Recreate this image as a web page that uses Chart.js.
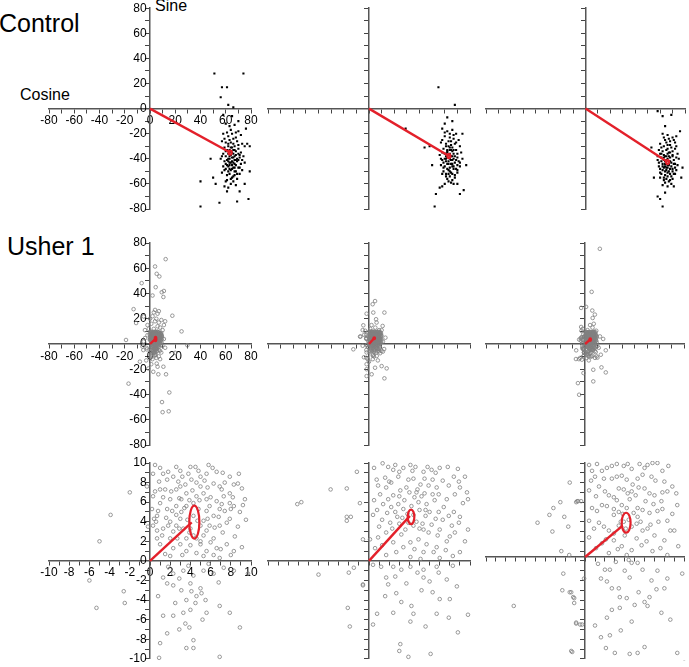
<!DOCTYPE html>
<html>
<head>
<meta charset="utf-8">
<script src="https://cdn.jsdelivr.net/npm/chart.js@4.4.0/dist/chart.umd.min.js"></script>
<style>
html, body { margin: 0; padding: 0; background: #fff; }
#wrap { position: relative; width: 689px; height: 667px; overflow: hidden; font-family: 'Liberation Sans', Arial, sans-serif; }
#wrap canvas { position: absolute; left: 0; top: 0; }
.lbl { position: absolute; white-space: nowrap; color: #000; }
</style>
</head>
<body>
<div id="wrap">
  <div class="lbl" style="left:-1px; top:11px; font-size:25px; line-height:25px;">Control</div>
  <div class="lbl" style="left:155px; top:-2px; font-size:16px; line-height:16px;">Sine</div>
  <div class="lbl" style="left:20px; top:87px; font-size:16px; line-height:16px;">Cosine</div>
  <div class="lbl" style="left:7px; top:234px; font-size:25px; line-height:25px;">Usher 1</div>
</div>
<script>
// axis ranges
const wideRange = [-80, 80];
const narrowRange = [-10, 10];
const narrowRangeLow = [-10.4, 9.6];   // last bottom panel sits a bit higher

// Control group: (cosine, sine) per sample, three conditions
const ctrl1 = [
  [51,28],[57,17],[61,17],[56,9],[62,3],[66,1],[74,28],[40,-58],[40,-78],[52,-60],[55,-75],[69,-74],[78,-72],
  [75,-60],[79,-50],[79,-30],[77,-28],[48,-40],[50,-55],[59,-62],[61,-66],[71,-66],[65,-6],[58,-5],[70,-10],[76,-16],
  [60,-12],[63,-14],[67,-13],[70,-18],[58,-20],[62,-22],[65,-20],[68,-23],[72,-21],[57,-26],[60,-27],[63,-25],
  [66,-28],[69,-26],[73,-28],[75,-30],[59,-31],[61,-33],[64,-31],[67,-33],[70,-32],[72,-35],[58,-36],[60,-38],
  [62,-36],[65,-35],[66,-39],[68,-37],[71,-39],[74,-38],[56,-40],[59,-42],[61,-41],[63,-43],[65,-42],[67,-44],
  [69,-42],[72,-44],[75,-43],[58,-46],[60,-48],[62,-46],[64,-49],[66,-47],[68,-50],[70,-47],[73,-49],[57,-51],
  [61,-53],[63,-52],[65,-55],[67,-53],[69,-56],[71,-52],[60,-58],[64,-60],[66,-58],[62,-63],[68,-61],[64,-34],
  [63,-38],[66,-33],[69,-40],[61,-45],[67,-41],[64,-27],[62,-30],[70,-36],[65,-45],[63,-48],
  [61,-19],[64,-17],[68,-19],[59,-24],[66,-24],[70,-29],[62,-28],[67,-30],[60,-34],[63,-35],[68,-34],[71,-37],
  [57,-38],[62,-40],[64,-37],[67,-38],[70,-41],[73,-41],[60,-44],[63,-45],[66,-43],[68,-45],[71,-47],[59,-49],
  [62,-50],[65,-48],[67,-50],[69,-52],[64,-56],[61,-57],[66,-54],[63,-40],[65,-39],[64,-43],[66,-36],[62,-42],
  [68,-41],[65,-31],[63,-33],[67,-47]
];
const ctrl2 = [
  [55,17],[68,3],[29,-16],[44,-31],[48,-30],[52,-78],[53,-68],[56,-63],[62,-7],[60,-12],[66,-10],[75,-65],
  [70,-60],[74,-20],[58,-62],[77,-45],[50,-45],[72,-68],
  [58,-16],[62,-18],[66,-17],[69,-20],[60,-22],[64,-23],[67,-24],[71,-25],[57,-27],[61,-28],[63,-26],[65,-29],
  [68,-28],[72,-30],[59,-32],[62,-33],[64,-31],[66,-34],[69,-33],[73,-35],[56,-37],[60,-36],[63,-37],[65,-38],
  [67,-36],[70,-39],[58,-41],[61,-40],[63,-42],[66,-41],[68,-43],[71,-42],[74,-40],[57,-45],[60,-46],[62,-44],
  [64,-47],[67,-46],[69,-48],[72,-46],[59,-50],[61,-52],[63,-49],[65,-51],[68,-53],[70,-51],[62,-56],[66,-57],
  [64,-54],[60,-60],[67,-60],[61,-38],[64,-40],[66,-44],[62,-35],[65,-33],[68,-38],[63,-30],[59,-43],[70,-45],
  [60,-19],[64,-20],[67,-21],[58,-25],[65,-26],[69,-27],[61,-30],[66,-31],[58,-35],[62,-34],[67,-33],[70,-36],
  [57,-40],[61,-42],[64,-39],[66,-38],[69,-41],[72,-43],[59,-47],[62,-48],[65,-44],[67,-48],[70,-49],[58,-52],
  [61,-54],[64,-50],[66,-52],[68,-55],[63,-58],[65,-59],[62,-39],[64,-36],[63,-44],[65,-41],[61,-36],[67,-40],
  [64,-33],[66,-46],[60,-40],[63,-52]
];
const ctrl3 = [
  [58,-2],[62,-6],[69,-5],[64,-14],[62,-78],[58,-70],[64,-67],[53,-31],[76,-18],[78,-47],[60,-72],[71,-62],
  [73,-22],[55,-55],[77,-55],
  [62,-20],[66,-21],[70,-23],[64,-25],[68,-26],[72,-27],[60,-28],[63,-30],[66,-29],[69,-31],[73,-30],[59,-33],
  [62,-34],[65,-33],[67,-35],[70,-34],[74,-36],[58,-38],[61,-39],[64,-38],[66,-40],[68,-39],[71,-41],[75,-40],
  [59,-43],[62,-44],[64,-42],[67,-45],[69,-43],[72,-44],[60,-48],[63,-47],[65,-49],[68,-48],[70,-50],[73,-49],
  [61,-52],[64,-53],[66,-51],[69,-54],[71,-52],[63,-57],[67,-58],[65,-56],[62,-61],[69,-60],[66,-36],[65,-44],
  [67,-42],[63,-41],[64,-46],[70,-38],[66,-47],[61,-36],[68,-52],[72,-47],[60,-55],[66,-62],
  [63,-23],[67,-24],[71,-25],[61,-31],[65,-27],[68,-29],[72,-32],[60,-36],[63,-37],[67,-38],[70,-37],[73,-39],
  [58,-41],[61,-42],[65,-41],[68,-42],[71,-44],[74,-45],[59,-46],[62,-49],[65,-47],[67,-50],[70,-48],[72,-52],
  [60,-51],[63,-55],[66,-54],[68,-57],[64,-59],[70,-56],[65,-38],[67,-44],[64,-44],[66,-45],[63,-39],[69,-46],
  [62,-46],[66,-32],[68,-35],[64,-50]
];

// Usher 1 group, same samples shown at two zooms
const ush1 = [
  [-2,7],[-3.9,4.7],[-0.3,7.6],[0.3,8.9],[1,9.5],[0.2,5.3],[0.4,4.3],[0.3,3.6],[-0.2,3.5],[0.6,4],
  [1.3,8.9],[1.7,8.3],[1.5,7.3],[2.3,8.6],[2.6,9.6],[3.2,8.6],[3.5,7.8],[4,9.6],[4.1,8.3],[4.5,9.6],
  [5,8.6],[5.8,9.8],[5.6,8.9],[6.6,9.1],[6.3,7.9],[6.9,7.6],[7.9,8.6],[8.3,7.8],[8.7,7.9],[7.9,6.9],
  [7.3,6.6],[5.3,6.9],[4.6,6.6],[3.6,6.9],[2.6,7.3],[2,6.3],[1,5.9],[1.7,5.3],[2.6,5.6],[3.1,5],
  [3.6,5.6],[5.6,5.1],[6.3,4.6],[6.9,5.3],[8.3,5.6],[7.9,4.3],[8.7,3.5],[6.9,3.6],[5.9,3.6],[5.3,4.1],
  [3,4.3],[2,4],[1.3,3.3],[2.3,3],[3.3,3.3],[3.6,2.3],[4.6,2.3],[5.3,2.6],[6.3,2.3],[7.6,1.7],
  [8.3,1],[6.9,0.3],[5.6,1],[4.6,0.8],[3.6,1],[2.3,1.3],[1.5,0.7],[1,1.7],[0.7,2.3],
  [1.3,-1.7],[2.3,-1.3],[3.3,-1],[4.3,-1.5],[5.3,-1],[6.3,-1.3],[8.3,-1],[9.7,-1.3],[1.7,-2.3],[2.3,-2.5],
  [4,-2.3],[5,-2.8],[4.6,-3.6],[5.1,-3.3],[0.8,-3.6],[4.5,-4.3],[3.6,-4],[3.3,-5.3],[4,-5],[2.3,-5.6],
  [1.3,-5.6],[5.6,-5.3],[6.9,-4.6],[7.9,-5.3],[3.5,-6.4],[1.7,-7.4],[4.3,-8.1],[3.6,-8.9],[4.3,-8.9],[1,-8.4],
  [6.9,-9.8],[-2.6,-3.1],[-2.5,-4.3],[-5.3,-4.8],[8.9,-6.8],
  [4.3,4.6],[5,3.6],[4,3.3],[2.6,3.6],[5.6,6.3],[4.3,5.9],[3.1,6.3],[5,7.6],[6.6,6.1],[2,2.3],
  [3,1.7],[5,1.7],[6.6,1.3],[0.7,4.6],[0.3,6.6],[1,7.3],[7.9,5.9],[8.9,5],[9.4,6.3],
  [0.5,9.8],[1.8,9.1],[3,9.2],[3.8,8.9],[4.8,9.2],[6.2,9.5],[7.2,9],[8.8,8.9],[0.9,8.1],[2.8,8.1],
  [4.6,8],[5.4,8.2],[7.4,8],[9.1,7.4],[0.5,7.1],[2.1,7.1],[3,7.6],[4.2,7.2],[5.7,7.5],[7.1,7.3],
  [8.2,6.5],[1.3,6.5],[2.9,6.4],[3.9,6.2],[4.9,6.2],[6,6.5],[7.1,5.8],[9.2,5.7],[0.8,5.1],[2.2,5.1],
  [3.4,5.4],[4.8,5.3],[5.9,5.6],[7.4,5.1],[8,5.3],[1.6,4.4],[2.6,4.7],[3.7,4.2],[4.7,4.1],[5.7,4.3],
  [6.8,4.5],[7.6,3.9],[9.5,4.2],[0.7,3.1],[1.8,3.6],[2.9,3.3],[3.9,2.9],[5.6,3.1],[6.4,3.4],[7.2,2.9],
  [8.4,2.5],[1.2,2.6],[2.7,2.3],[4.3,2.6],[5,2],[6,1.9],[7,1.2],[8,0.6],[2,0.5],[3.2,0.6],
  [4,1.6],[5.3,0.5],[6.3,0.6],[9.1,1.4],[1.8,-0.6],[3.8,-0.5],[5.8,-0.3],[7.3,-0.7],[2.9,-1.8],[6.8,-2.2],
  [3.1,-3],[4.1,-3.1],[5.5,-4],[2.5,-4.3],[3.9,-6.8],[2.9,-7],[5.2,-6],[0.9,-9.9],
  [3,12],[6,14],[1,16],[8,13],[4,18],[-2,15],[10,11],[5,20],[7,17],[2,22],[-1,12],[9,19],[3,25],[6,24],
  [0,20],[11,15],[4,27],[-4,11],[12,18],[7,26],[2,-12],[5,-11],[-3,-13],[8,-12],[1,-16],[6,-18],[11,4],
  [12,-3],[-5,2],[-6,-2],
  [12.4,67.2],[4,61.4],[5.3,55.6],[7.4,53.5],[-6.6,48.2],[4.5,45],[11,42],[9.3,41],[2,38.4],[10.6,37.2],
  [-13,27.6],[17.7,22.4],[25,10],[-19,3.2],[-5,21.8],[-11,16.6],[-8,-14],[-1.3,-19.4],[2.6,-22],[12.7,-24],
  [6.6,-24],[-17,-31.4],[15.3,-38.4],[9.5,-46],[10,-54],[14.8,-53.3],[29.6,-1],[20,-7],[5.3,-15.5],[10.6,-18]
];
const ush2 = [
  [1.35,9.97],[0.76,8.3],[1.6,8.5],[2.4,9.3],[2.6,9.8],[3.4,9.5],[4.1,9.8],[4.6,9.6],[5.4,9.1],[6.2,9.3],
  [7,9.5],[7.8,9.6],[8.4,8.6],[9.5,8.6],[9,7.5],[9.7,7],[9.8,6.3],[1.7,7.5],[1.1,6.8],[2.4,6.7],
  [3.1,7.2],[3.7,7.5],[4.7,7],[5.1,7.8],[5.9,7.7],[6.7,7.5],[7.9,7.7],[8.5,6.8],[1.4,5.8],[2.2,5.5],
  [2.9,5.8],[3.4,5.3],[4.9,6],[5.7,5.8],[6.5,6.2],[7.4,5.5],[8.4,5],[9,4.5],[0.4,4.7],[1.3,4.2],
  [2.1,3.9],[2.8,4.5],[3.6,3.2],[4.7,4],[5.4,3.2],[6.2,3.7],[7,3.2],[8,2.5],[9.8,3.2],[0.1,2.2],
  [0.9,2.4],[1.7,2.9],[2.4,1.9],[3.2,2.7],[4.1,1.9],[4.9,2.2],[5.7,1.7],[6.7,1.4],[7.7,2],[9,0.9],
  [1.7,0.6],[2.7,0.9],[4.1,0.4],[5.1,0.2],[6.4,0.9],[7,0.3],[0.4,-0.4],[2.4,-0.6],[4.1,-0.6],[5.4,-0.9],
  [6.7,-0.6],[1.7,-1.7],[2.6,-1.6],[5.4,-1.7],[6,-2.1],[7.7,-1.9],[8.7,-2.6],[1.9,-2.4],[1.6,-3.6],[4.2,-4.6],
  [4.4,-5.4],[7,-3.9],[8,-3.9],[9.8,-5.5],[0.8,-5.4],[2.4,-5.3],[6.7,-5.4],[0.4,-6.5],[4.1,-6.2],[3.1,-8.5],
  [3,-9.2],[3.9,-9.8],[-0.6,-2.4],[-0.9,5.9],
  [-1.2,9.1],[-3.8,7.3],[-2.2,7.4],[-2.2,4.5],[-1.8,4.5],[-2.2,4.1],[-6.7,6],[-0.6,2.2],[-2,-1.2],[-1.5,-0.7],
  [-5,-1.4],[-2.1,-4.8],[-1.9,-6.7],[-0.6,-2.5],
  [3.5,6.2],[4.5,6.5],[5.2,6.6],[4.2,5.6],[5,5.2],[3.8,4.8],[5.6,4.6],[6,5],[4.4,3.6],[3,3.8],
  [6.6,4.3],[5.3,3.8],[2.6,5],[4.8,7.3],[6.9,6.8],[3.9,8.3],[5.5,8.4],[2,8.1],[7.3,4.2],[8.2,3.6],
  [0.5,9.5],[1.9,9.6],[3,9.1],[4.3,9.2],[5.8,9.6],[6.6,9],[8.8,9.4],[0.9,7.7],[2.2,8],[2.9,8.6],
  [4.4,8.4],[6.3,8.3],[7.3,8.2],[8.9,8.1],[0.5,6.2],[1.9,6.3],[3,6.6],[4,7],[5.5,6.9],[6.3,6.8],
  [7.7,6.3],[9.3,5.9],[0.8,5.2],[1.8,4.9],[3.3,4.4],[4.4,4.7],[5.6,5.2],[6.9,5],[7.9,4.6],[8.9,3.9],
  [1,3.5],[2.3,3.3],[3.9,3.9],[5,3.3],[5.9,2.9],[6.8,2.6],[8.5,2.9],[9.5,2],[0.6,1.3],[1.3,1.6],
  [3.4,1.4],[4.5,1.2],[5.4,0.9],[7.6,1.1],[8.3,0.5],[1.2,-0.6],[3.2,-0.9],[4.8,-1.2],[6.9,-1.2],[8.3,-0.5],
  [3.7,-2.3],[5.2,-3],[2.7,-3.3],[6.3,-3.2],[7.9,-5.8],[3.2,-4.2],[5.6,-6.7],[8.8,-7.3],
  [1,12],[-3,10.5],[8,11],[5,13],[-2,-11],[3,-12],[11,-6],[-4,-10.5],[11,2],[7,-13],[2,15],[-1,-12],
  [6,17],[10,11],[-5,11],[12,-4],[0,-14],[13,5],
  [4.8,34],[2.9,31.5],[12.2,24.9],[3.4,24.9],[-1.9,24],[5.6,19.6],[10.8,14.3],[-4.5,14.8],[-7.1,5.8],[-12.4,-4.2],
  [6.1,-9.5],[10,-17.5],[14,-19.3],[4.8,-18.8],[-1.9,-16],[-1.9,-20],[2.1,-24],[12.2,-27.2],[-1.9,-25.4]
];
const ush3 = [
  [0.7,8.8],[1.7,8.8],[2.2,9.1],[3.2,9.5],[3.9,9.3],[4.7,9],[5.5,9.5],[6.3,9.4],[7.3,9.6],[7.8,8.8],
  [1,8.2],[2.7,8],[3.7,8.3],[5.3,8],[6.7,8.2],[8,7.7],[8.3,6.7],[0.4,6.8],[1.4,7.2],[2.4,6.3],
  [3.4,7],[4.7,6.7],[6,7],[7,6.3],[7.7,5.7],[9.3,5.3],[-0.8,5.7],[-0.4,5.7],[0.7,5],[1.7,5.3],
  [2.9,4.9],[3.7,5.3],[5.3,5],[6.5,4.5],[7.3,4.7],[8.3,3.7],[9,2.7],[0.4,3.7],[1.4,3.5],[2.4,2.7],
  [3.4,3.2],[4,2.2],[5.2,3.4],[5.8,2.7],[7,2.2],[8,1.7],[0.4,2],[1.7,1.4],[2.9,1.7],[3.7,1.1],
  [4.7,0.7],[5.7,1.2],[6.8,0.6],[8.3,0.2],[2.4,0.4],[4.2,0.2],[4.4,-0.3],[4.7,-0.6],[2,-1.3],[1.6,-2.2],
  [2.5,-1.3],[4.5,-2.1],[5.8,-1.3],[7.3,-1.4],[8.3,-2.2],[9.8,-1.7],[2.7,-3.2],[3.4,-3.2],[3.5,-4.1],[4.2,-4.2],
  [6.5,-4.1],[8,-3.2],[6,-4.6],[6.3,-5],[5,-4.9],[7.7,-5.7],[3.5,-5.2],[2.2,-6.2],[2.7,-5.4],[1.6,-8.2],
  [2.5,-8],[1,-7],[6,-9.2],[3,-9.8],[4.5,-9.9],[9.3,-9.8],[-0.1,-2.2],[-1.1,-4.2],[-1.4,-3.6],[-0.9,-6.7],
  [-0.3,-6.9],[-1.3,-9.7],
  [-1.55,7.6],[-2.5,5.6],[-0.9,5.6],[-0.7,5.7],[-3.2,5],[-3.6,4.3],[-2.1,4.1],[-4.8,3.5],[-1.7,3.1],[-3.3,2.6],
  [-2.4,0.6],[-1.6,0.2],[-2.2,-1.7],[-2.3,-3.4],[-1.55,-3.6],[-7.2,-5],[-0.9,-6.8],[-0.5,-6.9],[-1.4,-9.6],
  [-1.2,-4.1],[-1.1,-4.7],
  [3.8,4.4],[4.4,3.8],[4.9,4.5],[3.2,5.8],[4.5,5.9],[5.3,4.1],[3.6,3.6],[4.1,2.9],[5.6,3.6],[2.9,4.3],
  [4.8,7.4],[6.1,5.7],[3.9,6.9],[5.1,6.3],[6.6,3.3],
  [0.4,9.4],[1.2,9.5],[2.7,9.3],[4.3,9.5],[6,9.1],[6.8,9.6],[8.4,9.3],[0.6,7.8],[1.9,8],[3.2,8.2],
  [4.2,7.9],[5.8,8.4],[7.1,7.8],[8.8,7.2],[1.1,6.2],[2,6.7],[2.9,6.1],[4.3,6.5],[5.4,7.1],[6.5,6.5],
  [7.8,6.6],[9.2,6.5],[1.2,4.7],[2.2,5.2],[3.4,4.6],[4.2,5],[5.8,4.8],[6.9,5.4],[7.8,4.9],[8.8,4.4],
  [0.9,2.9],[1.9,3.1],[2.9,2.4],[3.9,3.6],[4.7,3.1],[6.3,2.9],[7.4,3.6],[8.6,2.7],[1.1,0.9],[2.1,1.8],
  [3.3,0.8],[5.2,1.9],[6.2,1.6],[7.6,0.9],[9.4,1.1],[1.3,-0.7],[3.1,-0.5],[5.3,-0.6],[6.7,-2.4],[4,-1.4],
  [2.2,-2.5],[5.4,-3.6],[7.2,-3.3],[4.7,-6.6],[3.6,-7.5],[8.6,-6.4],[2.1,-9.3],
  [2,11],[6,13],[-3,10.5],[9,10.5],[4,15],[-4,-11],[11,-3],[1,-11],[8,-11],[-2,12],[12,6],[3,-13],[7,16],
  [-5,-12],[10,-10.8],
  [11.9,75.4],[5.3,41.3],[0.8,29.4],[-3.2,28.6],[5.8,26.5],[7.9,23.3],[6.1,20.6],[-3.2,13.5],[14.6,4],[16.7,-5],
  [-7.4,-11.9],[-2.6,-12.4],[13.2,-18.5],[16.7,-22.5],[6.6,-20.4],[-1.3,-23],[6.6,-29.6],[-5.8,-31],[-4.8,-40.2],
  [12.7,-8.5],[5.3,-9.8]
];

// mean vectors (end of red line) and error ellipses [cx, cy, rx, ry]
const ctrlMeans = [[63.5,-35],[63.3,-37.8],[66,-42.6]];
const ctrlEllipses = [[63.5,-35,1.2,1.6],[63.3,-37.8,1.2,1.6],[66,-42.6,1.2,1.6]];
const ushMeans = [[4.13,3.93],[4.05,4.6],[3.8,3.2]];
const ushEllipses = [[4.39,3.96,0.5,1.68],[4.16,4.5,0.33,0.74],[4.14,3.5,0.45,1.02]];

const RED = '#e3202a';
const W = 689, H = 667;
const colX = [[49,251],[268,470],[486,688]];
const rowY = [[8,209],[243,445],[463,664]];

const ellipsePlugin = {
  id: 'meanEllipse',
  afterDatasetsDraw(chart, args, opts) {
    if (!opts.e) return;
    const {x, y} = chart.scales;
    const [cx, cy, rx, ry] = opts.e;
    const px = x.getPixelForValue(cx), py = y.getPixelForValue(cy);
    const prx = Math.max(Math.abs(x.getPixelForValue(cx + rx) - px), 0.8);
    const pry = Math.max(Math.abs(y.getPixelForValue(cy + ry) - py), 0.8);
    const ctx = chart.ctx;
    ctx.save();
    ctx.beginPath();
    ctx.ellipse(px, py, prx, pry, 0, 0, Math.PI * 2);
    ctx.strokeStyle = RED;
    ctx.lineWidth = 2.2;
    ctx.stroke();
    ctx.restore();
  }
};

function axis(dim, range, step, labelEvery, showLabels) {
  return {
    type: 'linear',
    min: range[0],
    max: range[1],
    position: dim === 'x' ? { y: 0 } : { x: 0 },
    afterFit: s => { if (dim === 'x') s.height = 0; else s.width = 0; },
    grid: { drawOnChartArea: false, drawTicks: true, tickLength: 4, color: '#444', lineWidth: 1 },
    border: { display: true, color: '#555', width: 1.5 },
    ticks: {
      stepSize: step,
      autoSkip: false,
      maxRotation: 0,
      padding: 1,
      color: '#000',
      font: { family: "'Liberation Sans', Arial, sans-serif", size: 12 },
      callback: v => {
        if (!showLabels) return '';
        const r = Math.round(v);
        if (Math.abs(v - r) > 1e-6 || r % labelEvery !== 0) return '';
        // y labels sit right-aligned on the axis line; a trailing space keeps a small gap
        return dim === 'y' ? String(r) + ' ' : String(r);
      }
    }
  };
}

function makePanel(row, col, pts, kind, mean, ell, xRange, yRange, step, labelEvery) {
  const canvas = document.createElement('canvas');
  canvas.width = W;
  canvas.height = H;
  document.getElementById('wrap').appendChild(canvas);
  const [l, r] = colX[col];
  const [t, b] = rowY[row];
  const showLabels = col === 0;
  const pointStyle = kind === 'ctrl'
    ? { pointStyle: 'rect', pointRadius: 1.5, backgroundColor: '#000', borderWidth: 0 }
    : { pointStyle: 'circle', pointRadius: 1.8, backgroundColor: 'rgba(0,0,0,0)', borderColor: '#808080', borderWidth: 0.8 };
  new Chart(canvas, {
    type: 'scatter',
    data: {
      datasets: [
        {
          data: [{ x: 0, y: 0 }, { x: mean[0], y: mean[1] }],
          showLine: true, borderColor: RED, borderWidth: 2.4, pointRadius: 0, clip: 0
        },
        Object.assign({ data: pts.map(p => ({ x: p[0], y: p[1] })), clip: 2 }, pointStyle)
      ]
    },
    options: {
      responsive: false,
      animation: false,
      events: [],
      layout: { padding: { left: l, right: W - r, top: t, bottom: H - b } },
      scales: {
        x: axis('x', xRange, step, labelEvery, showLabels),
        y: axis('y', yRange, step, labelEvery, showLabels)
      },
      plugins: { legend: { display: false }, tooltip: { enabled: false }, meanEllipse: { e: ell } }
    },
    plugins: [ellipsePlugin]
  });
}

const ctrlData = [ctrl1, ctrl2, ctrl3];
const ushData = [ush1, ush2, ush3];
for (let c = 0; c < 3; c++) {
  makePanel(0, c, ctrlData[c], 'ctrl', ctrlMeans[c], ctrlEllipses[c], wideRange, wideRange, 10, 20);
  makePanel(1, c, ushData[c], 'ush', ushMeans[c], ushEllipses[c], wideRange, wideRange, 10, 20);
  makePanel(2, c, ushData[c], 'ush', ushMeans[c], ushEllipses[c], narrowRange,
            c === 2 ? narrowRangeLow : narrowRange, 1, 2);
}
</script>
</body>
</html>
